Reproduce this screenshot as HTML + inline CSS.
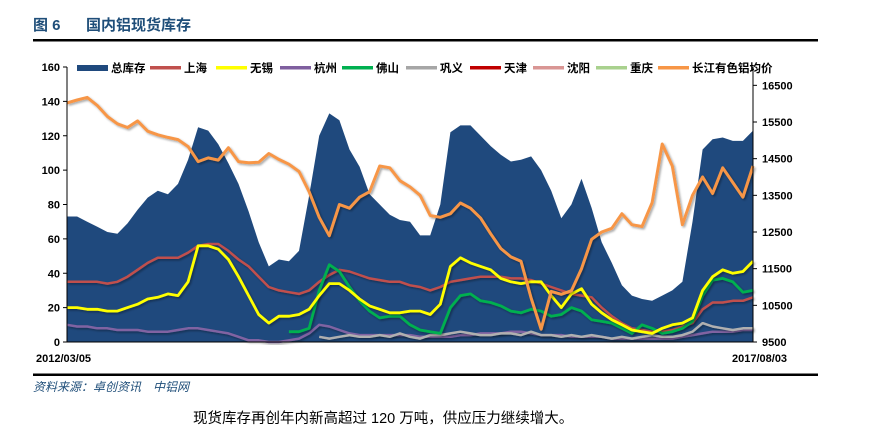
<!DOCTYPE html>
<html><head><meta charset="utf-8">
<style>
body{margin:0;background:#fff;width:879px;height:435px;overflow:hidden;font-family:"Liberation Sans","Noto Sans CJK SC",sans-serif;}
svg{position:absolute;left:0;top:0}
</style></head>
<body>
<svg id="c" width="879" height="435">
<defs><filter id="sh" x="-5%" y="-5%" width="110%" height="120%"><feDropShadow dx="1.5" dy="1.5" stdDeviation="1" flood-color="#000" flood-opacity="0.35"/></filter></defs>
<text x="33" y="30" font-size="15" font-weight="bold" fill="#1f4e79" font-family="Liberation Sans,Noto Sans CJK SC,sans-serif">图 6</text>
<text x="86" y="30" font-size="15" font-weight="bold" fill="#1f4e79" font-family="Liberation Sans,Noto Sans CJK SC,sans-serif">国内铝现货库存</text>
<rect x="33" y="39" width="785" height="2.5" fill="#000"/>
<rect x="33" y="373.5" width="785" height="2.5" fill="#000"/>
<text x="33" y="391" font-size="12" font-style="italic" fill="#1f4e79" font-family="Liberation Sans,Noto Sans CJK SC,sans-serif">资料来源：卓创资讯　中铝网</text>
<text x="193" y="423" font-size="14.5" fill="#000" font-family="Liberation Sans,Noto Sans CJK SC,sans-serif">现货库存再创年内新高超过 120 万吨，供应压力继续增大。</text>
<g id="plot"></g>
</svg>
<script>
const leftTicks=[0,20,40,60,80,100,120,140,160];
const rightTicks=[9500,10500,11500,12500,13500,14500,15500,16500];
const startLabel="2012/03/05", endLabel="2017/08/03";
const total=[73,73,70,67,64,63,69,77,84,88,86,92,106,125,123,115,104,92,76,58,44,48,47,53,85,120,133,129,112,102,86,80,74,71,70,62,62,80,122,126,126,120,114,109,105,106,108,100,88,72,80,95,78,58,46,33,27,25,24,27,30,35,70,112,118,119,117,117,123];
const shanghai=[35,35,35,35,34,35,38,42,46,49,49,49,52,56,57,57,53,48,44,38,32,30,29,28,30,35,39,42,41,39,37,36,35,35,33,32,30,32,35,36,37,38,38,38,37,37,36,34,32,30,28,27,26,20,15,11,8,7,6,6,7,9,11,19,23,23,24,24,26];
const wuxi=[20,20,19,19,18,18,20,22,25,26,28,27,35,56,56,54,48,38,27,16,11,15,15,16,19,27,34,34,30,25,21,19,17,17,18,18,16,22,44,49,46,44,42,37,35,34,35,35,27,20,28,31,22,17,13,10,7,6,5,8,10,11,14,30,38,42,40,41,47];
const hangzhou=[10,9,9,8,8,7,7,7,6,6,6,7,8,8,7,6,5,3,1,1,0,0,1,2,5,10,9,7,5,4,4,4,4,4,4,3,3,3,3,4,4,5,5,5,6,6,5,4,4,4,3,3,3,3,2,2,2,2,2,2,2,3,4,5,6,6,6,7,7];
const foshan=[6,6,8,30,45,41,32,24,18,14,15,15,10,7,6,5,20,27,28,24,23,21,18,17,19,18,15,16,20,18,13,12,11,8,5,10,8,5,6,8,12,27,36,37,35,29,30];
const gongyi=[3,2,3,4,3,3,4,3,5,3,2,4,4,5,6,5,4,4,5,5,4,6,4,4,3,4,3,4,3,2,3,2,3,4,3,3,4,6,11,9,8,7,8,8];
const price=[16020,16100,16170,15950,15650,15450,15350,15530,15250,15150,15080,15020,14830,14420,14520,14460,14800,14420,14390,14400,14640,14480,14350,14150,13600,12900,12400,13250,13150,13450,13600,14300,14250,13900,13730,13500,12950,12900,13000,13290,13150,12880,12450,12050,11820,11700,10700,9850,10880,10800,10900,11500,12300,12500,12600,13000,12700,12650,13300,14900,14300,12700,13500,14000,13550,14250,13850,13450,14300];
const legendNames=["总库存","上海","无锡","杭州","佛山","巩义","天津","沈阳","重庆","长江有色铝均价"];
const legendColors=["#1f497d","#c0504d","#ffff00","#7f5f9f","#00b050","#a6a6a6","#c00000","#d99694","#a9d18e","#f79646"];

const NS="http://www.w3.org/2000/svg";
const X0=67,X1=753,Y0=342,Y1=67,N=total.length;
const xs=i=>X0+i*(X1-X0)/(N-1);
const yL=v=>Y0-(v-0)*(Y0-Y1)/160;
const yR=p=>Y0-(p-9500)*(Y0-Y1)/7500;
const g=document.getElementById('plot');
function mk(tag,attrs){const e=document.createElementNS(NS,tag);for(const k in attrs)e.setAttribute(k,attrs[k]);g.appendChild(e);return e;}

// area
let d=`M${xs(0)},${Y0}`;total.forEach((v,i)=>d+=`L${xs(i).toFixed(1)},${yL(v).toFixed(1)}`);d+=`L${xs(N-1)},${Y0}Z`;
const area=mk('path',{d:d,fill:'#1f497d'});



function line(arr,scale,color,name,w){
  const off=N-arr.length;let s='';
  arr.forEach((v,i)=>{s+=(i?'L':'M')+xs(i+off).toFixed(1)+','+scale(v).toFixed(1);});
  const p=mk('path',{d:s,fill:'none',stroke:color,'stroke-width':w,'stroke-linejoin':'round',filter:'url(#sh)'});
  
  
}
line(hangzhou,yL,'#8064a2','hangzhou-line',2.5);
line(gongyi,yL,'#b0b0b0','gongyi-line',2.5);
line(shanghai,yL,'#c0504d','shanghai-line',2.5);
line(foshan,yL,'#00b050','foshan-line',2.8);
line(wuxi,yL,'#ffff00','wuxi-line',2.8);
line(price,yR,'#f79646','price-line',3);

// axes
const la=mk('line',{x1:X0,y1:Y1,x2:X0,y2:Y0,stroke:'#000','stroke-width':1});

const ra=mk('line',{x1:X1,y1:Y1,x2:X1,y2:Y0,stroke:'#000','stroke-width':1});

const ba=mk('line',{x1:X0,y1:Y0,x2:X1,y2:Y0,stroke:'#000','stroke-width':1});

leftTicks.forEach(t=>{
  mk('line',{x1:X0-4,y1:yL(t),x2:X0,y2:yL(t),stroke:'#000'});
  const tx=mk('text',{x:X0-7,y:yL(t)+4,'text-anchor':'end','font-size':11,'font-weight':'bold',fill:'#000'});
  tx.textContent=t;
  
  
});
rightTicks.forEach(t=>{
  mk('line',{x1:X1,y1:yR(t),x2:X1+4,y2:yR(t),stroke:'#000'});
  const tx=mk('text',{x:X1+9,y:yR(t)+4,'font-size':11,'font-weight':'bold',fill:'#000'});
  tx.textContent=t;
  
  
});
const s1=mk('text',{x:36,y:362,'font-size':11,'font-weight':'bold'});s1.textContent=startLabel;

const s2=mk('text',{x:732,y:362,'font-size':11,'font-weight':'bold'});s2.textContent=endLabel;


// legend
const lx=[77,150,216,280,342,406,470,533,596,658];
legendNames.forEach((n,i)=>{
  const r=mk('rect',{x:lx[i],y:i===0?65:66,width:31,height:i===0?6:3.5,fill:legendColors[i]});
  
  
  const t=mk('text',{x:lx[i]+34,y:72,'font-size':11.5,'font-weight':'bold',fill:'#000'});
  t.textContent=n;
  
  
});
</script>
</body></html>
